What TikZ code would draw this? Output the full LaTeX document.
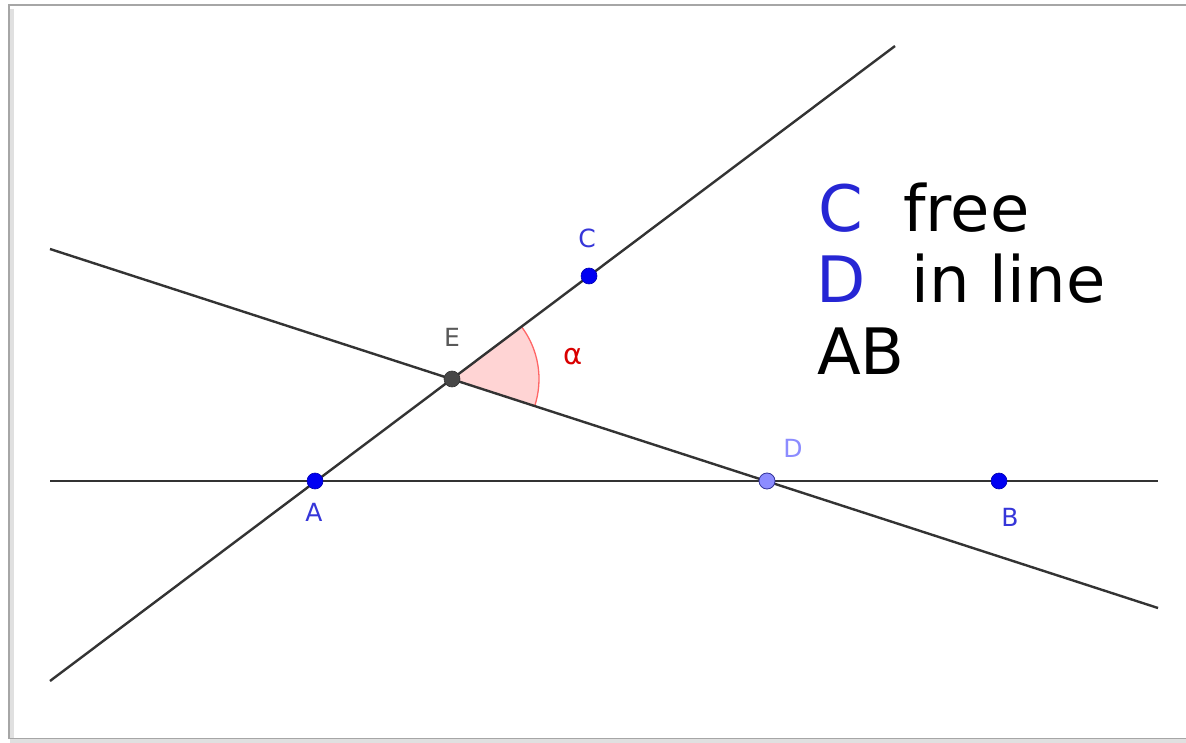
\documentclass[tikz,border=0pt]{standalone}
\usepackage{fontspec}
\setmainfont{DejaVu Sans}
\begin{document}
\begin{tikzpicture}[x=1pt,y=-1pt,
  geoline/.style={draw=black!80,line width=2.4pt},
  ptblue/.style={circle,fill=blue!95!black,draw=blue!70!black,line width=0.6pt,minimum size=16pt,inner sep=0pt},
  ptlabel/.style={font=\fontsize{25}{25}\selectfont,text=blue!75!white!85!black},
  bigtext/.style={font=\fontsize{64}{64}\selectfont,anchor=base west,inner sep=0pt}]
\useasboundingbox (0,0) rectangle (1186,743);
\fill[white] (0,0) rectangle (1186,743);
% frame with soft shadow
\draw[black!12,line width=4pt] (12,9) -- (12,741) -- (1190,741);
\draw[black!35,line width=1.6pt] (1190,5) -- (9,5) -- (9,738.5) -- (1190,738.5);
% points
\coordinate (A) at (315,481);
\coordinate (B) at (999,481);
\coordinate (C) at (589,276);
\coordinate (D) at (767,481);
\coordinate (E) at (452,379);
% line ends
\coordinate (h1) at (50,481);
\coordinate (h2) at (1158,481);
\coordinate (a1) at (50,681);
\coordinate (a2) at (895,46);
\coordinate (d1) at (50,249);
\coordinate (d2) at (1158,608);
% angle
\fill[red!17] (E) -- ++(-36.8:87) arc[start angle=-36.8,end angle=17.9,radius=87] -- cycle;
\draw[red!60,line width=1.3pt] (E) ++(-36.8:87) arc[start angle=-36.8,end angle=17.9,radius=87];
% lines
\draw[geoline] (h1) -- (h2);
\draw[geoline] (a1) -- (a2);
\draw[geoline] (d1) -- (d2);
% point markers
\node[ptblue] (pA) at (A) {};
\node[ptblue] (pB) at (B) {};
\node[ptblue] (pC) at (C) {};
\node[circle,fill=blue!45!white,draw=blue!50!black!80,line width=0.8pt,minimum size=16pt,inner sep=0pt] (pD) at (D) {};
\node[circle,fill=black!72,draw=black!80,line width=0.6pt,minimum size=16pt,inner sep=0pt] (pE) at (E) {};
% labels
\node[ptlabel] (lA) at (314,512) {A};
\node[ptlabel] (lB) at (1010,517) {B};
\node[ptlabel] (lC) at (587,238) {C};
\node[ptlabel,text=blue!45!white] (lD) at (793,448) {D};
\node[ptlabel,text=black!65] (lE) at (452,337) {E};
\node[font=\fontsize{29}{29}\selectfont,text=red!85!black] (lal) at (573,357) {α};
% legend
\node[bigtext,text=blue!80!black!85!white] (t1) at (818,232) {C};
\node[bigtext] (t2) at (903,232) {free};
\node[bigtext,text=blue!80!black!85!white] (t3) at (816,302) {D};
\node[bigtext] (t4) at (911,302) {in line};
\node[bigtext] (t5) at (817,374) {AB};
\end{tikzpicture}
\end{document}
